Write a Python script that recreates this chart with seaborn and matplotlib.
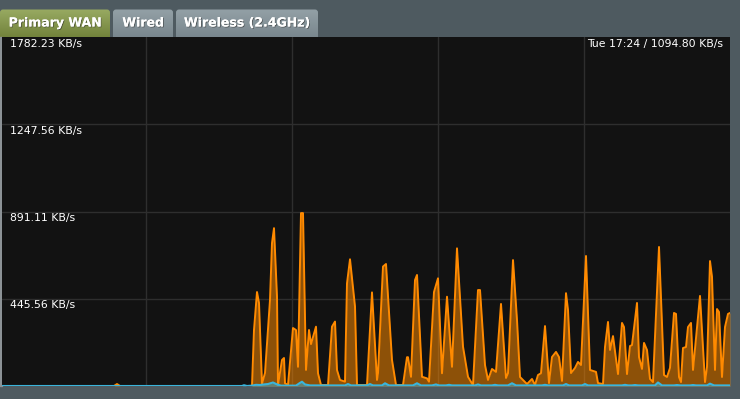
import numpy as np
import pandas as pd
import matplotlib
matplotlib.use("Agg")
import matplotlib.pyplot as plt
import matplotlib.patheffects as pe
from matplotlib.patches import FancyBboxPatch, Rectangle
from matplotlib.colors import LinearSegmentedColormap
import seaborn as sns

# ---------------- data ----------------
tab_labels = ["Primary WAN", "Wired", "Wireless (2.4GHz)"]
y_grid_values = [445.56, 891.11, 1336.67, 1782.23]
y_grid_labels = ["445.56 KB/s", "891.11 KB/s", "1247.56 KB/s", "1782.23 KB/s"]
hover_label = "Tue 17:24 / 1094.80 KB/s"
y_max = 1782.23
x_max = 728

wan_t = [0, 112, 115, 118, 250, 252, 255, 257, 260, 263, 268, 270, 272, 275, 276,
         280, 282, 283, 286, 291, 294, 296, 299, 301, 304, 307, 309, 314, 316, 319,
         326, 330, 333, 335, 338, 343, 345, 348, 353, 355, 365, 370, 375, 376, 381,
         384, 390, 394, 401, 405, 406, 409, 413, 415, 420, 425, 427, 432, 436, 440,
         445, 450, 455, 461, 466, 471, 476, 478, 483, 486, 490, 494, 499, 504, 506,
         511, 515, 518, 525, 530, 533, 536, 539, 543, 547, 550, 554, 557, 560, 564,
         566, 569, 573, 576, 579, 584, 588, 591, 594, 596, 601, 603, 606, 608, 611,
         616, 620, 622, 625, 628, 630, 635, 637, 640, 642, 645, 648, 651, 657, 662,
         665, 668, 672, 674, 677, 679, 681, 684, 686, 689, 691, 698, 703, 705, 708,
         710, 713, 715, 717, 720, 723, 726, 728]
wan_kbps = [0, 0, 10, 0, 0, 286, 480, 424, 12, 66, 439, 730, 806, 456, 5,
            133, 143, 14, 5, 296, 286, 98, 883, 883, 82, 286, 214, 303, 65, 5,
            5, 303, 329, 82, 31, 22, 524, 647, 406, 5, 5, 478, 31, 65, 610,
            623, 133, 5, 5, 147, 147, 47, 541, 567, 47, 39, 22, 480, 550, 65,
            456, 98, 703, 201, 47, 5, 490, 490, 107, 31, 87, 72, 419, 41, 65,
            643, 337, 46, 10, 36, 5, 56, 65, 306, 15, 148, 174, 148, 26, 474,
            388, 66, 92, 123, 107, 664, 82, 77, 72, 15, 10, 199, 327, 184, 255,
            61, 322, 301, 61, 204, 209, 424, 148, 87, 220, 184, 36, 20, 710, 56,
            46, 92, 373, 368, 46, 20, 194, 199, 301, 322, 82, 460, 20, 97, 638,
            557, 82, 393, 378, 46, 301, 368, 373]

wired_t = [0, 240, 242, 245, 250, 254, 258, 262, 266, 271, 275, 279, 294, 298, 300,
           303, 308, 343, 346, 349, 365, 368, 371, 380, 383, 387, 411, 415, 419, 430,
           434, 437, 444, 447, 450, 473, 476, 479, 490, 493, 496, 506, 510, 514, 540,
           543, 546, 561, 564, 567, 580, 583, 586, 620, 623, 626, 630, 633, 636, 653,
           656, 660, 672, 675, 678, 688, 691, 694, 705, 708, 712, 728]
wired_kbps = [0, 0, 4, 0, 2, 6, 5, 8, 10, 18, 8, 2, 2, 16, 22,
              8, 3, 3, 10, 3, 3, 10, 3, 3, 14, 3, 3, 14, 3, 3,
              8, 3, 3, 6, 3, 3, 8, 3, 3, 6, 3, 3, 14, 3, 3,
              6, 3, 3, 10, 3, 3, 10, 3, 3, 6, 3, 3, 5, 3, 3,
              18, 3, 3, 5, 3, 3, 5, 3, 3, 12, 3, 3]

wan_df = pd.DataFrame({"t": wan_t, "kbps": wan_kbps})
wired_df = pd.DataFrame({"t": wired_t, "kbps": wired_kbps})

# ---------------- figure ----------------
W, H = 740, 399
sns.set_style("dark")
plt.rcParams["font.family"] = ["DejaVu Sans"]

fig = plt.figure(figsize=(W / 100, H / 100), dpi=100, facecolor="#4e5a60")

# background / tabs layer (pixel coordinates)
bg = fig.add_axes([0, 0, 1, 1], zorder=0)
bg.set_facecolor("#4e5a60")
bg.axis("off")

tab_boxes = [(0, 110), (113, 173), (176, 318)]
tab_cols = [("#98aa62", "#6c7c35"), ("#93a0a6", "#75838a"), ("#93a0a6", "#75838a")]
tab_top, tab_bot = 9.5, 37
for (x0, x1), (ctop, cbot), lab in zip(tab_boxes, tab_cols, tab_labels):
    cmap = LinearSegmentedColormap.from_list("g", [ctop, cbot])
    grad = np.linspace(0, 1, 64).reshape(-1, 1)
    im = bg.imshow(grad, cmap=cmap, extent=(x0, x1, tab_bot + 5, tab_top),
                   aspect="auto", zorder=1)
    clip = FancyBboxPatch((x0, tab_top), x1 - x0, tab_bot + 5 - tab_top,
                          boxstyle="round,pad=0,rounding_size=3",
                          transform=bg.transData, facecolor="none", edgecolor="none")
    bg.add_patch(clip)
    im.set_clip_path(clip)
    bg.text((x0 + x1) / 2, 23, lab, color="white", fontsize=9, fontweight="bold",
            ha="center", va="center", zorder=3,
            path_effects=[pe.withSimplePatchShadow(offset=(0.6, -0.6),
                                                   shadow_rgbFace="#2a2a2a", alpha=0.6),
                          pe.Normal()])
bg.add_patch(Rectangle((0, 37), 1.5, 349, color="#8c9296", zorder=1))
bg.set_xlim(0, W)
bg.set_ylim(H, 0)

# main chart
ax = fig.add_axes([2 / W, 13 / H, 728 / W, 349 / H], zorder=2)
ax.set_facecolor("#121212")
ax.set_xlim(0, x_max)
ax.set_ylim(0, y_max)

ax.fill_between(wan_df["t"], wan_df["kbps"], color="#ff8c00", alpha=0.52, lw=0, zorder=2)
sns.lineplot(data=wan_df, x="t", y="kbps", ax=ax, color="#ff8a00", lw=1.4,
             estimator=None, zorder=3)
ax.fill_between(wired_df["t"], wired_df["kbps"], color="#3ab5dc", alpha=0.5, lw=0, zorder=4)
sns.lineplot(data=wired_df, x="t", y="kbps", ax=ax, color="#3ab5dc", lw=1.5,
             estimator=None, zorder=5)

ax.set_xticks([144, 290, 436, 582])
ax.set_yticks(y_grid_values[:3])
ax.grid(True, color="#2e2e2e", lw=1)
ax.set_axisbelow(True)
ax.tick_params(length=0, labelbottom=False, labelleft=False)
ax.set_xlabel("")
ax.set_ylabel("")
for s in ax.spines.values():
    s.set_visible(False)

for v, lab in zip(y_grid_values, y_grid_labels):
    ax.annotate(lab, xy=(0, v), xycoords=("axes fraction", "data"),
                xytext=(8, -1.5), textcoords="offset pixels",
                color="white", fontsize=7.8, ha="left", va="top", zorder=6)

ax.annotate(hover_label, xy=(1, 1), xycoords="axes fraction",
            xytext=(-7, -2.5), textcoords="offset pixels",
            color="white", fontsize=7.8, ha="right", va="top", zorder=6)

fig.savefig("out.png", dpi=100, facecolor=fig.get_facecolor())
